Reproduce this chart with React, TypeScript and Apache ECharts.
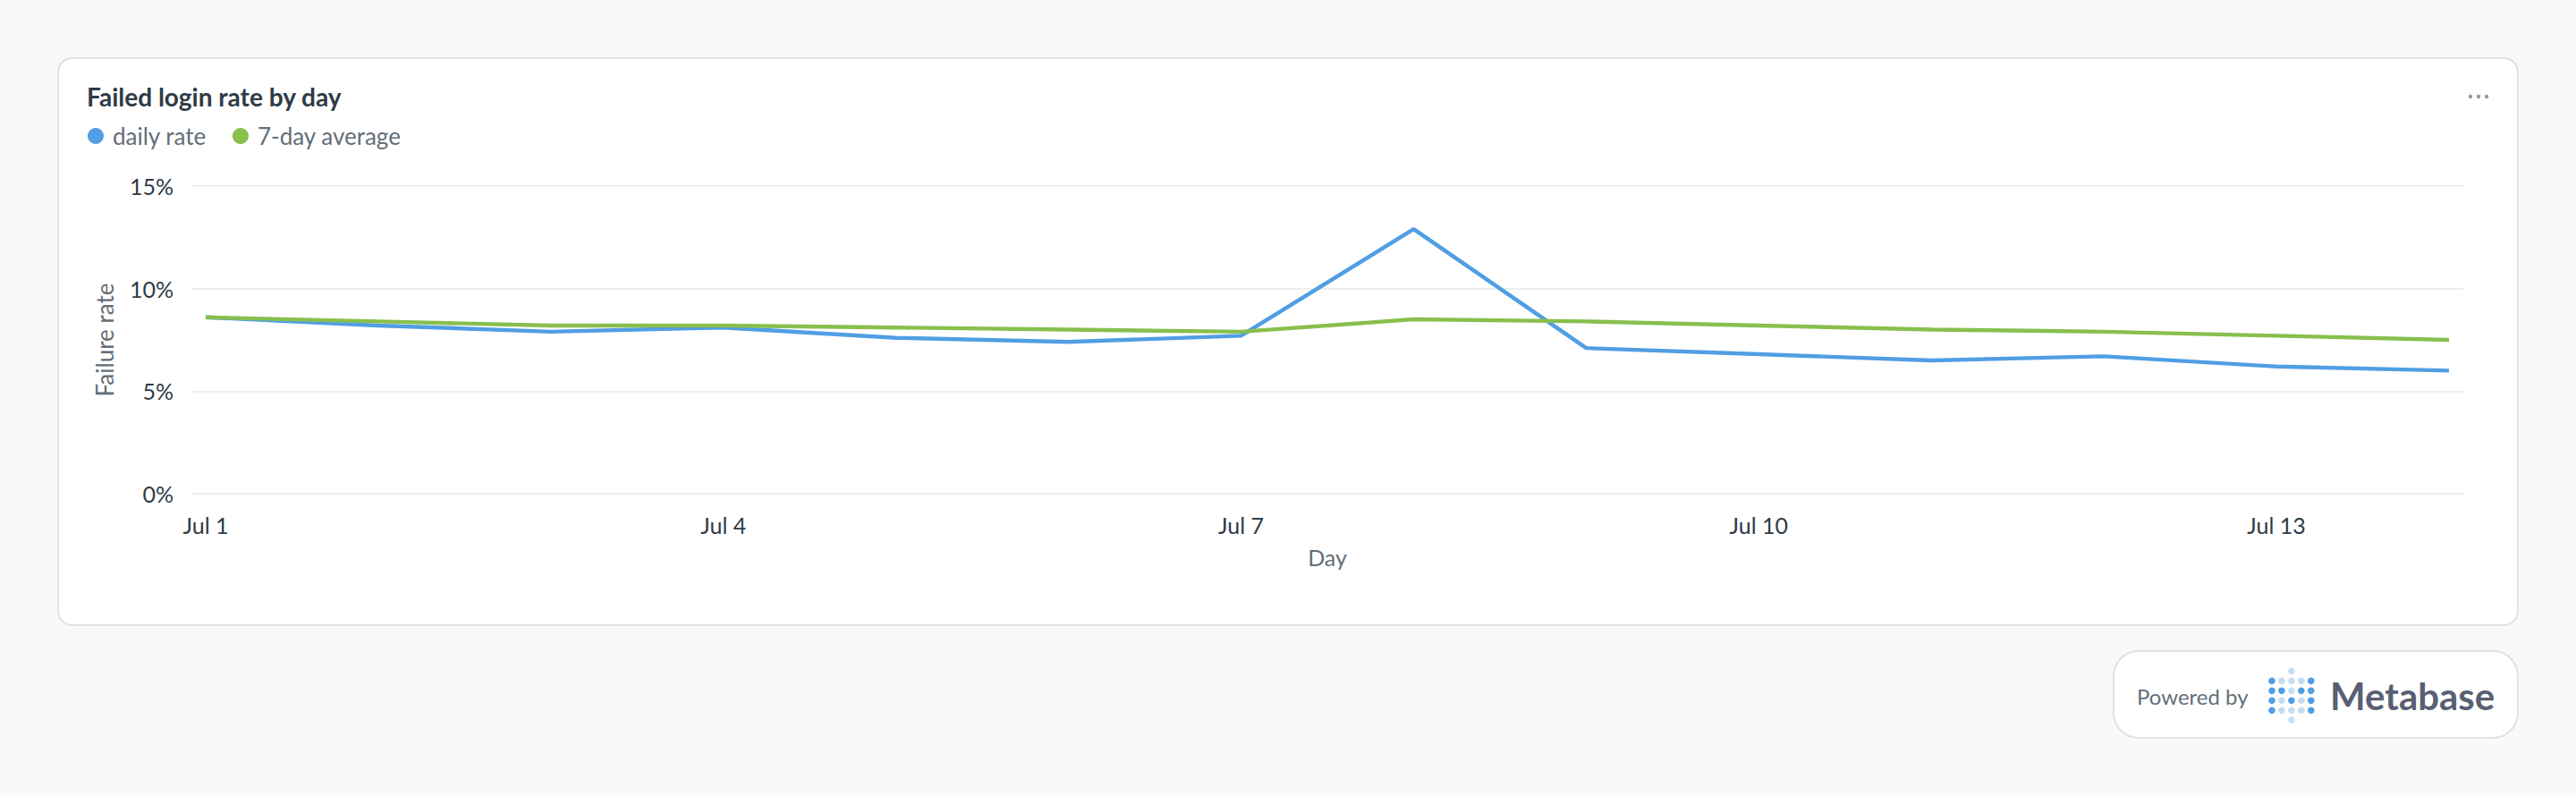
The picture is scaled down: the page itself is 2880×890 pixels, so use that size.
import { useEffect, useRef } from 'react';
import * as echarts from 'echarts';

const days = ['Jul 1', 'Jul 2', 'Jul 3', 'Jul 4', 'Jul 5', 'Jul 6', 'Jul 7', 'Jul 8', 'Jul 9', 'Jul 10', 'Jul 11', 'Jul 12', 'Jul 13', 'Jul 14'];
const dailyRate = [8.6, 8.2, 7.9, 8.1, 7.6, 7.4, 7.7, 12.9, 7.1, 6.8, 6.5, 6.7, 6.2, 6.0];
const sevenDayAverage = [8.6, 8.4, 8.2, 8.2, 8.1, 8.0, 7.9, 8.5, 8.4, 8.2, 8.0, 7.9, 7.7, 7.5];
const labelledDays = [0, 3, 6, 9, 12];

const FONT = 'Lato';
const BLUE = '#509EE3';
const GREEN = '#88BF4D';
const LIGHT_BLUE = '#C5DDF3';
const BORDER = '#DFE2E3';

// logo dots, 1 = strong blue, 0 = pale blue
const logoRows = [
  [1, 0, 0, 0, 1],
  [1, 1, 0, 1, 1],
  [1, 0, 1, 0, 1],
  [1, 0, 0, 0, 1],
];

function logoDots() {
  const dots: any[] = [];
  const dot = (x: number, y: number, fill: string) => ({
    type: 'circle',
    shape: { cx: x, cy: y, r: 3.8 },
    style: { fill },
    silent: true,
  });
  logoRows.forEach((row, r) => {
    row.forEach((on, c) => {
      dots.push(dot(2540 + c * 10.95, 761.3 + r * 11, on ? BLUE : LIGHT_BLUE));
    });
  });
  dots.push(dot(2561.9, 750.3, LIGHT_BLUE));
  dots.push(dot(2561.9, 805, LIGHT_BLUE));
  return dots;
}

export default function App() {
  const chartRef = useRef<HTMLDivElement>(null);

  useEffect(() => {
    if (!chartRef.current) return;
    const chart = echarts.init(chartRef.current, undefined, { renderer: 'svg' });

    chart.setOption({
      animation: false,
      backgroundColor: '#F9F9F9',
      textStyle: { fontFamily: FONT },
      title: {
        text: 'Failed login rate by day',
        left: 97,
        top: 92,
        padding: 0,
        textStyle: { fontFamily: FONT, fontSize: 28, fontWeight: 700, color: '#2E3B46', lineHeight: 32 },
      },
      legend: {
        left: 98,
        top: 139,
        padding: 0,
        icon: 'circle',
        itemWidth: 18,
        itemHeight: 18,
        itemGap: 29,
        data: ['daily rate', '7-day average'],
        textStyle: { fontFamily: FONT, fontSize: 26, color: '#636E78', padding: [0, 0, 0, 5] },
      },
      grid: { left: 214, right: 126, top: 208, height: 344 },
      xAxis: {
        type: 'value',
        name: 'Day',
        nameLocation: 'middle',
        nameGap: 58,
        nameTextStyle: { fontFamily: FONT, fontSize: 25, color: '#636E78' },
        min: -0.083,
        max: 13.083,
        axisLine: { show: false },
        axisTick: { show: false },
        splitLine: { show: false },
        axisLabel: {
          customValues: labelledDays,
          formatter: (v: number) => days[Math.round(v)],
          margin: 22,
          fontFamily: FONT,
          fontSize: 25,
          color: '#2E3B46',
        },
      },
      yAxis: {
        type: 'value',
        name: 'Failure rate',
        nameLocation: 'middle',
        nameGap: 84,
        nameTextStyle: { fontFamily: FONT, fontSize: 26, color: '#636E78' },
        min: 0,
        max: 15,
        interval: 5,
        axisLine: { show: false },
        axisTick: { show: false },
        axisLabel: {
          formatter: '{value}%',
          margin: 20,
          fontFamily: FONT,
          fontSize: 25,
          color: '#2E3B46',
        },
        splitLine: { lineStyle: { color: '#EDEEEF', width: 2 } },
      },
      series: [
        {
          name: 'daily rate',
          type: 'line',
          showSymbol: false,
          data: dailyRate.map((v, i) => [i, v]),
          itemStyle: { color: BLUE },
          lineStyle: { color: BLUE, width: 4.4 },
          z: 2,
        },
        {
          name: '7-day average',
          type: 'line',
          showSymbol: false,
          data: sevenDayAverage.map((v, i) => [i, v]),
          itemStyle: { color: GREEN },
          lineStyle: { color: GREEN, width: 4.4 },
          z: 3,
        },
      ],
      graphic: [
        {
          type: 'rect',
          z: -10,
          silent: true,
          shape: { x: 65, y: 65, width: 2750, height: 634, r: 16 },
          style: { fill: '#FFFFFF', stroke: BORDER, lineWidth: 2 },
        },
        {
          type: 'rect',
          z: -10,
          silent: true,
          shape: { x: 2363, y: 728, width: 452, height: 97, r: 28 },
          style: { fill: '#FFFFFF', stroke: BORDER, lineWidth: 2 },
        },
        ...[2762, 2771, 2780].map((cx) => ({
          type: 'circle',
          silent: true,
          shape: { cx, cy: 108, r: 2.2 },
          style: { fill: '#949AA0' },
        })),
        {
          type: 'text',
          silent: true,
          x: 2389,
          y: 778,
          style: { text: 'Powered by', fontFamily: FONT, fontSize: 24, fill: '#636E78', textVerticalAlign: 'middle' },
        },
        ...logoDots(),
        {
          type: 'text',
          silent: true,
          x: 2605,
          y: 778,
          style: { text: 'Metabase', fontFamily: FONT, fontSize: 42, fontWeight: 700, fill: '#5A5F73', textVerticalAlign: 'middle' },
        },
      ],
    });

    return () => {
      chart.dispose();
    };
  }, []);

  return <div ref={chartRef} style={{ position: 'fixed', left: 0, top: 0, width: 2880, height: 890 }} />;
}
